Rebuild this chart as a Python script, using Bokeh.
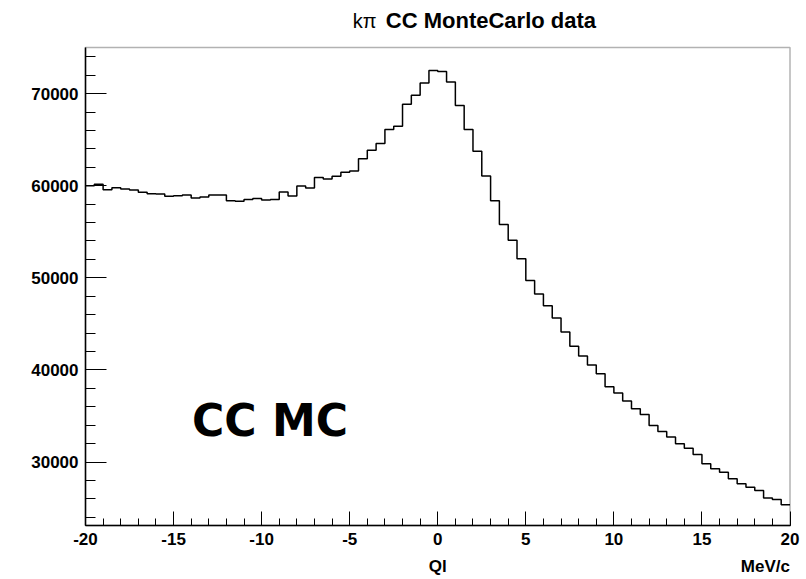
from bokeh.plotting import figure
from bokeh.models import Label, FixedTicker, Range1d, BoxAnnotation
from bokeh.embed import file_html
from bokeh.resources import INLINE

# ---- data ----
bin_lo = -20.0
bin_width = 0.5
counts = [
    60000, 60150, 59570, 59790, 59640, 59530, 59280, 59140, 59100, 58850,
    58920, 58990, 58660, 58770, 58990, 58990, 58380, 58300, 58490, 58600,
    58450, 58500, 59320, 58880, 59970, 59750, 60880, 60730, 61020, 61450,
    61590, 62940, 63840, 64570, 66090, 66450, 68840, 69820, 71150, 72500,
    72400, 71260, 68720, 66100, 63750, 61060, 58380, 55780, 54070, 52060,
    49720, 48240, 46970, 45630, 44110, 42570, 41520, 40530, 39590, 38190,
    37500, 36620, 35790, 35170, 33980, 33330, 32710, 31990, 31510, 30830,
    29820, 29270, 28910, 28190, 27650, 27280, 26920, 26090, 25940, 25360,
]
x_ticks = [-20, -15, -10, -5, 0, 5, 10, 15, 20]
x_minor = list(range(-20, 21))
y_ticks = [30000, 40000, 50000, 60000, 70000]
y_minor = list(range(24000, 75000, 2000))
title_prefix = "k\u03c0"
title_main = "CC MonteCarlo data"
x_label = "Ql"
x_unit = "MeV/c"
note = "CC MC"

# histogram axis extent and outer (canvas) extent
X0, X1 = -20, 20
Y0, Y1 = 23120, 75000
PY = 108.6      # data units per pixel on y
PXX = 40 / 704.5  # data units per pixel on x
X_lo = X0 - 85 * PXX
X_hi = X1 + 16.5 * PXX
Y_lo = Y0 - 54 * PY
Y_hi = Y1 + 47 * PY

edges = [bin_lo + i * bin_width for i in range(len(counts) + 1)]
ys = counts + [counts[-1]]

FONT = "Liberation Sans"

p = figure(width=806, height=579, output_backend="svg", toolbar_location=None,
           x_range=Range1d(X_lo, X_hi), y_range=Range1d(Y_lo, Y_hi),
           min_border=0)
p.background_fill_color = "white"
p.border_fill_color = "white"
p.outline_line_color = None
p.xgrid.visible = False
p.ygrid.visible = False

# frame box of the histogram
p.add_layout(BoxAnnotation(left=X0, right=X1, bottom=Y0, top=Y1,
                           fill_color=None, fill_alpha=0,
                           line_color="black", line_width=1.5))

p.step(x=edges, y=ys, mode="after", line_color="black", line_width=1.5)

for ax in (p.xaxis[0], p.yaxis[0]):
    ax.axis_line_color = "black"
    ax.axis_line_width = 1.5
    ax.major_tick_line_color = "black"
    ax.minor_tick_line_color = "black"
    ax.major_tick_out = 0
    ax.minor_tick_out = 0
    ax.major_label_text_font = FONT
    ax.major_label_text_font_style = "bold"
    ax.major_label_text_font_size = "17px"
    ax.major_label_text_color = "black"

p.xaxis.fixed_location = Y0
p.xaxis.bounds = (X0, X1)
p.xaxis.ticker = FixedTicker(ticks=x_ticks, minor_ticks=x_minor)
p.xaxis.major_label_overrides = {t: str(t) for t in x_ticks}
p.xaxis.major_tick_in = 14
p.xaxis.minor_tick_in = 7
p.xaxis.major_label_standoff = 8

p.yaxis.fixed_location = X0
p.yaxis.bounds = (Y0, Y1)
p.yaxis.ticker = FixedTicker(ticks=y_ticks, minor_ticks=y_minor)
p.yaxis.major_tick_in = 21
p.yaxis.minor_tick_in = 10
p.yaxis.major_label_standoff = 7
p.yaxis.major_label_orientation = "horizontal"

# axis title and unit
p.add_layout(Label(x=0, y=Y0 - 41 * PY, text=x_label, text_align="center",
                   text_baseline="middle", text_font=FONT,
                   text_font_style="bold", text_font_size="17px",
                   text_color="black"))
p.add_layout(Label(x=X1, y=Y0 - 41 * PY, text=x_unit, text_align="right",
                   text_baseline="middle", text_font=FONT,
                   text_font_style="bold", text_font_size="17px",
                   text_color="black"))

# title pieces
p.add_layout(Label(x=-4.83, y=Y1 + 27 * PY, text=title_prefix,
                   text_align="left", text_baseline="middle", text_font=FONT,
                   text_font_size="20px", text_color="black"))
p.add_layout(Label(x=-2.95, y=Y1 + 27 * PY, text=title_main,
                   text_align="left", text_baseline="middle", text_font=FONT,
                   text_font_style="bold", text_font_size="22px",
                   text_color="black"))

# in-plot note
p.add_layout(Label(x=-13.95, y=34500, text=note, text_align="left",
                   text_baseline="alphabetic", text_font="DejaVu Sans",
                   text_font_style="bold", text_font_size="44px",
                   text_color="black"))

open("out.html", "w").write(file_html(p, INLINE))
